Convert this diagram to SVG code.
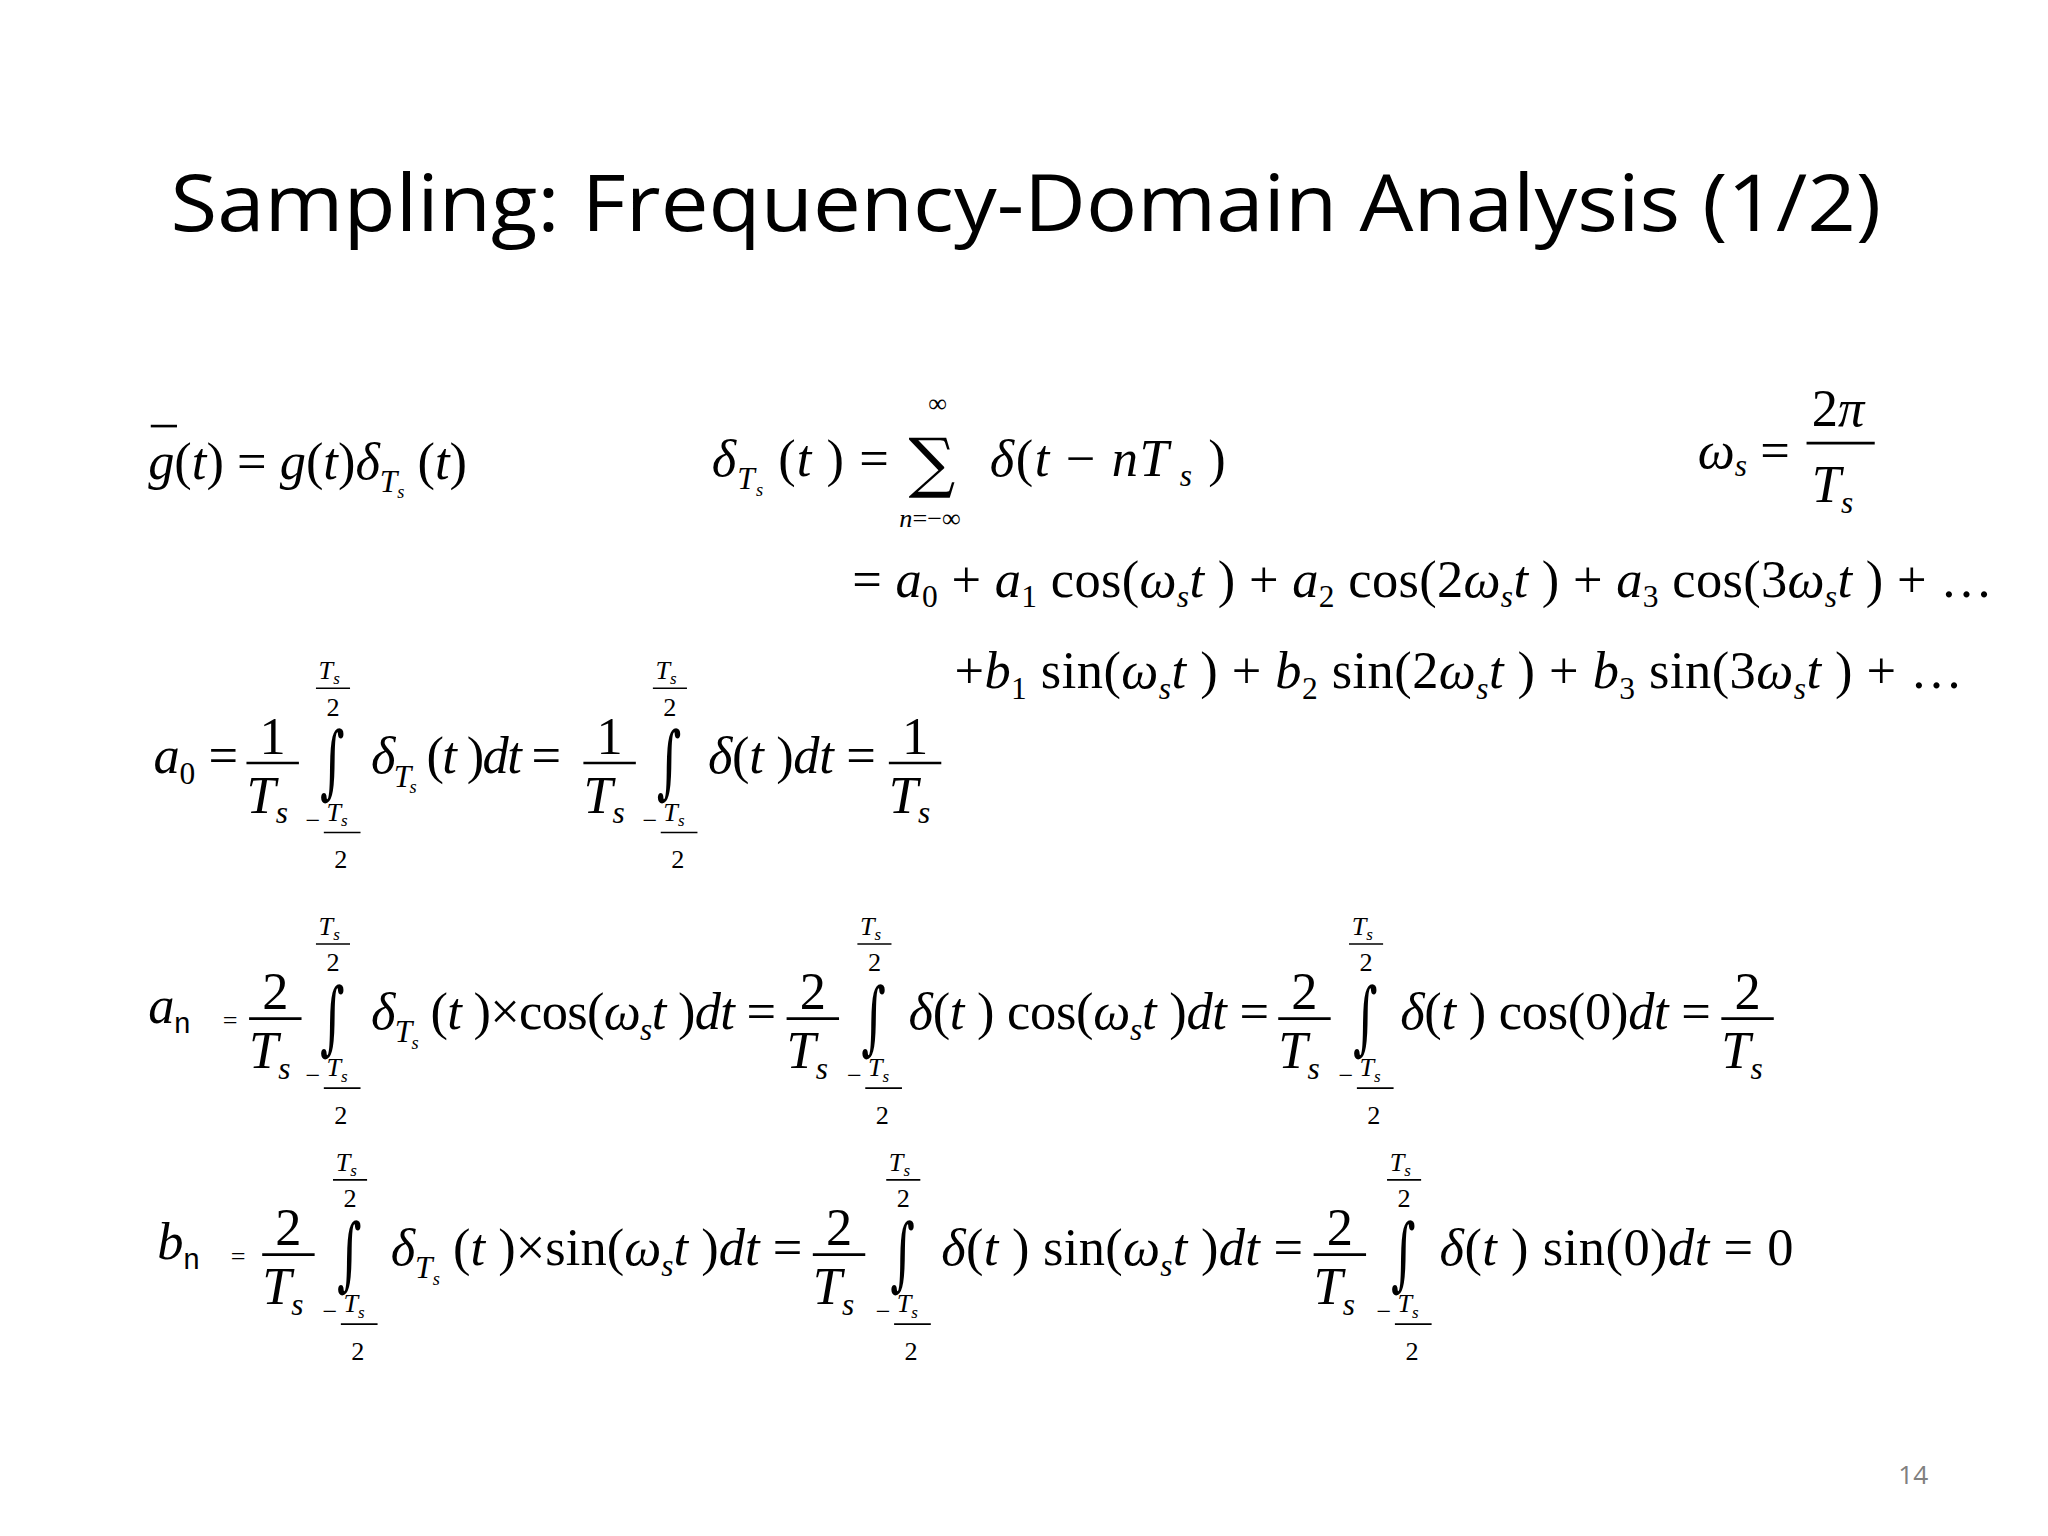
<svg xmlns="http://www.w3.org/2000/svg" xmlns:xlink="http://www.w3.org/1999/xlink" width="2048" height="1536" viewBox="0 0 2048 1536">
<style>
.m{font-family:"Liberation Serif",serif;font-size:40px;fill:#000}
.i{font-style:italic}
.s{font-size:24px}
.l{font-family:"Liberation Serif",serif;font-size:20px;fill:#000}
.ln{stroke:#000;stroke-width:2}
.t{font-family:"Open Sans","Liberation Sans",sans-serif;font-size:60px;fill:#000}
.big{font-family:"DejaVu Serif",serif;fill:#000}
</style>
<defs>
<g id="int">
<text class="l i" x="-12" y="-72" font-size="19">T<tspan font-size="13" dy="4">s</tspan></text>
<line x1="-14" y1="-65" x2="12" y2="-65" stroke="#000" stroke-width="1.2"/>
<text class="l" x="-6" y="-44">2</text>
<text class="big" x="-11" y="7" font-size="36" transform="scale(1,1.7)">∫</text>
<text class="l" x="-22" y="42">−</text>
<text class="l i" x="-6" y="36" font-size="19">T<tspan font-size="13" dy="4">s</tspan></text>
<line x1="-8" y1="45" x2="20" y2="45" stroke="#000" stroke-width="1.2"/>
<text class="l" x="0" y="72">2</text>
</g>
<g id="f1">
<text class="m" x="-10" y="-15">1</text>
<line x1="-20" y1="-8" x2="20" y2="-8" class="ln"/>
<text class="m i" x="-20" y="30">T<tspan class="s" dy="8">s</tspan></text>
</g>
<g id="f2">
<text class="m" x="-10" y="-15">2</text>
<line x1="-20" y1="-8" x2="20" y2="-8" class="ln"/>
<text class="m i" x="-20" y="30">T<tspan class="s" dy="8">s</tspan></text>
</g>
</defs>
<g transform="scale(1.311)">
<text class="t" x="130" y="176" textLength="1305" lengthAdjust="spacingAndGlyphs">Sampling: Frequency-Domain Analysis (1/2)</text>

<g id="eq1">
<text class="m" x="113" y="365"><tspan class="i">g</tspan>(<tspan class="i">t</tspan>) = <tspan class="i">g</tspan>(<tspan class="i">t</tspan>)<tspan class="i">δ</tspan><tspan class="s i" dy="10">T</tspan><tspan font-size="14" class="i" dy="5">s</tspan><tspan dy="-15"> (</tspan><tspan class="i">t</tspan>)</text>
<line x1="115" y1="325" x2="135" y2="325" class="ln"/>
</g>

<g id="eq2">
<text class="m" x="543" y="363" textLength="135"><tspan class="i">δ</tspan><tspan class="s i" dy="10">T</tspan><tspan font-size="14" class="i" dy="5">s</tspan><tspan dy="-15"> (</tspan><tspan class="i">t</tspan> ) =</text>
<text class="big" x="693" y="370" font-size="50">∑</text>
<text class="l" x="708" y="314">∞</text>
<text class="l i" x="686" y="402">n<tspan font-style="normal">=−∞</tspan></text>
<text class="m" x="755" y="363" textLength="180"><tspan class="i">δ</tspan>(<tspan class="i">t</tspan> − <tspan class="i">nT</tspan><tspan class="s i" dy="8"> s</tspan><tspan dy="-8"> )</tspan></text>
</g>

<g id="eq3">
<text class="m i" x="1295" y="357">ω<tspan class="s" dy="6">s</tspan><tspan font-style="normal" dy="-6"> =</tspan></text>
<text class="m" x="1382" y="325">2<tspan class="i">π</tspan></text>
<line x1="1378" y1="338" x2="1430" y2="338" class="ln"/>
<text class="m i" x="1382" y="383">T<tspan class="s" dy="8">s</tspan></text>
</g>

<g id="eq4">
<text class="m" x="650" y="455" textLength="870"><tspan>= </tspan><tspan class="i">a</tspan><tspan class="s" dy="8">0</tspan><tspan dy="-8"> + </tspan><tspan class="i">a</tspan><tspan class="s" dy="8">1</tspan><tspan dy="-8"> cos(</tspan><tspan class="i">ω</tspan><tspan class="s i" dy="8">s</tspan><tspan class="i" dy="-8">t</tspan> ) + <tspan class="i">a</tspan><tspan class="s" dy="8">2</tspan><tspan dy="-8"> cos(2</tspan><tspan class="i">ω</tspan><tspan class="s i" dy="8">s</tspan><tspan class="i" dy="-8">t</tspan> ) + <tspan class="i">a</tspan><tspan class="s" dy="8">3</tspan><tspan dy="-8"> cos(3</tspan><tspan class="i">ω</tspan><tspan class="s i" dy="8">s</tspan><tspan class="i" dy="-8">t</tspan> ) + …</text>
<text class="m" x="728" y="525" textLength="769">+<tspan class="i">b</tspan><tspan class="s" dy="8">1</tspan><tspan dy="-8"> sin(</tspan><tspan class="i">ω</tspan><tspan class="s i" dy="8">s</tspan><tspan class="i" dy="-8">t</tspan> ) + <tspan class="i">b</tspan><tspan class="s" dy="8">2</tspan><tspan dy="-8"> sin(2</tspan><tspan class="i">ω</tspan><tspan class="s i" dy="8">s</tspan><tspan class="i" dy="-8">t</tspan> ) + <tspan class="i">b</tspan><tspan class="s" dy="8">3</tspan><tspan dy="-8"> sin(3</tspan><tspan class="i">ω</tspan><tspan class="s i" dy="8">s</tspan><tspan class="i" dy="-8">t</tspan> ) + …</text>
</g>

<g id="a0">
<text class="m" x="117" y="590"><tspan class="i">a</tspan><tspan class="s" dy="8">0</tspan><tspan dy="-8"> =</tspan></text>
<use xlink:href="#f1" x="208" y="590"/>
<use xlink:href="#int" x="255" y="590"/>
<text class="m" x="283" y="590" textLength="145"><tspan class="i">δ</tspan><tspan class="s i" dy="10">T</tspan><tspan font-size="14" class="i" dy="5">s</tspan><tspan dy="-15"> (</tspan><tspan class="i">t</tspan> )<tspan class="i">dt</tspan> =</text>
<use xlink:href="#f1" x="465" y="590"/>
<use xlink:href="#int" x="512" y="590"/>
<text class="m" x="540" y="590" textLength="128"><tspan class="i">δ</tspan>(<tspan class="i">t</tspan> )<tspan class="i">dt</tspan> =</text>
<use xlink:href="#f1" x="698" y="590"/>
</g>

<g id="an">
<text class="m" x="113" y="780"><tspan class="i">a</tspan><tspan font-family="Liberation Sans" font-size="22" dy="8">n</tspan></text>
<text class="l" x="170" y="785">=</text>
<use xlink:href="#f2" x="210" y="785"/>
<use xlink:href="#int" x="255" y="785"/>
<text class="m" x="283" y="785" textLength="309"><tspan class="i">δ</tspan><tspan class="s i" dy="10">T</tspan><tspan font-size="14" class="i" dy="5">s</tspan><tspan dy="-15"> (</tspan><tspan class="i">t</tspan> )×cos(<tspan class="i">ω</tspan><tspan class="s i" dy="8">s</tspan><tspan class="i" dy="-8">t</tspan> )<tspan class="i">dt</tspan> =</text>
<use xlink:href="#f2" x="620" y="785"/>
<use xlink:href="#int" x="668" y="785"/>
<text class="m" x="693" y="785" textLength="275"><tspan class="i">δ</tspan>(<tspan class="i">t</tspan> ) cos(<tspan class="i">ω</tspan><tspan class="s i" dy="8">s</tspan><tspan class="i" dy="-8">t</tspan> )<tspan class="i">dt</tspan> =</text>
<use xlink:href="#f2" x="995" y="785"/>
<use xlink:href="#int" x="1043" y="785"/>
<text class="m" x="1068" y="785" textLength="237"><tspan class="i">δ</tspan>(<tspan class="i">t</tspan> ) cos(0)<tspan class="i">dt</tspan> =</text>
<use xlink:href="#f2" x="1333" y="785"/>
</g>

<g id="bn">
<text class="m" x="120" y="960"><tspan class="i">b</tspan><tspan font-family="Liberation Sans" font-size="22" dy="8">n</tspan></text>
<text class="l" x="176" y="965">=</text>
<use xlink:href="#f2" x="220" y="965"/>
<use xlink:href="#int" x="268" y="965"/>
<text class="m" x="298" y="965" textLength="314"><tspan class="i">δ</tspan><tspan class="s i" dy="10">T</tspan><tspan font-size="14" class="i" dy="5">s</tspan><tspan dy="-15"> (</tspan><tspan class="i">t</tspan> )×sin(<tspan class="i">ω</tspan><tspan class="s i" dy="8">s</tspan><tspan class="i" dy="-8">t</tspan> )<tspan class="i">dt</tspan> =</text>
<use xlink:href="#f2" x="640" y="965"/>
<use xlink:href="#int" x="690" y="965"/>
<text class="m" x="718" y="965" textLength="276"><tspan class="i">δ</tspan>(<tspan class="i">t</tspan> ) sin(<tspan class="i">ω</tspan><tspan class="s i" dy="8">s</tspan><tspan class="i" dy="-8">t</tspan> )<tspan class="i">dt</tspan> =</text>
<use xlink:href="#f2" x="1022" y="965"/>
<use xlink:href="#int" x="1072" y="965"/>
<text class="m" x="1098" y="965" textLength="270"><tspan class="i">δ</tspan>(<tspan class="i">t</tspan> ) sin(0)<tspan class="i">dt</tspan> = 0</text>
</g>

<text x="1448" y="1132" font-family="Open Sans, Liberation Sans, sans-serif" font-size="20" fill="#808080">14</text>
</g>
</svg>
